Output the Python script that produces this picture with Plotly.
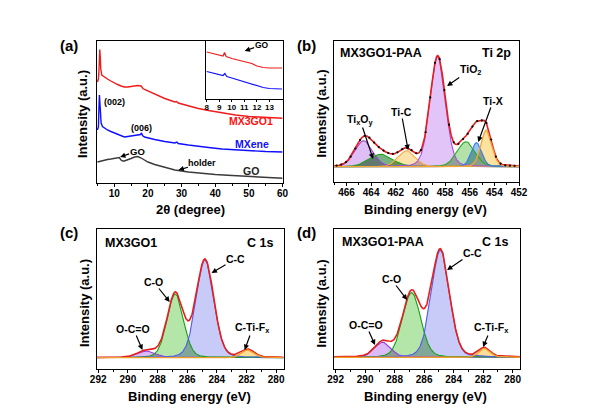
import numpy as np
import plotly.graph_objects as go

# page body has an 8px margin; figure is drawn 8px in from the window corner
OFF = 8
W, H = 610 - 2 * OFF, 414 - 2 * OFF
FONT = "Liberation Sans"

# ---------------- Panel (a): XRD ----------------
xrd_x_mx3go1 = [5.0, 5.3, 5.45, 5.55, 5.7, 5.85, 6.0, 6.3, 7.0, 8, 9, 10, 11, 12, 13, 14, 15, 16, 17, 18,
                18.5, 19, 20, 22, 25, 28, 28.5, 29, 32, 35, 38, 42, 46, 50, 55, 60]
xrd_y_mx3go1 = [101, 104, 112, 125, 133.5, 126, 114, 108, 106, 104, 102, 100, 98.5, 97, 96, 96, 96.5, 97.5, 97.5, 97,
                94.5, 93.5, 92, 89, 84.5, 81, 81.5, 80, 77, 74.5, 72.5, 70, 68, 66.5, 65.5, 64.7]
xrd_x_mxene = [5.0, 5.3, 5.45, 5.6, 5.75, 5.9, 6.1, 6.5, 7, 8, 9, 10, 11, 12, 13, 14, 15, 16, 17,
               17.8, 18.1, 18.4, 19, 20, 22, 25, 28, 28.6, 29, 32, 35, 38, 42, 46, 50, 55, 60]
xrd_y_mxene = [53, 56, 75, 88, 80, 68, 60, 56.5, 55, 53, 51.5, 50, 49, 47.5, 46, 46.5, 47, 47.5, 47.5,
               48.5, 50, 47.5, 46, 45, 43.5, 41.5, 40, 41, 39.5, 38, 36.5, 35.5, 34, 33, 32, 31.5, 31]
xrd_x_go = [5, 6, 7, 8, 9, 10, 11, 11.5, 12, 12.5, 13, 14, 15, 16, 17, 18, 19, 20, 22, 25, 28, 32, 36, 40,
            45, 50, 55, 60]
xrd_y_go = [21, 22, 23, 23.5, 24, 24.5, 25, 25.5, 23, 22, 22, 23, 24.5, 26, 26.5, 25, 23, 21, 18.5, 15.5, 13,
            11, 9.5, 8.5, 7.5, 6.5, 5.5, 4.7]
a_ticks = [10, 20, 30, 40, 50, 60]

# inset
inset_x_mx3go1 = [8.0, 8.5, 9.0, 9.3, 9.42, 9.55, 10, 10.5, 11, 11.3, 11.6, 12, 12.5, 13, 14]
inset_y_mx3go1 = [47, 45.5, 44, 43, 46.5, 42.5, 40.5, 39, 37.5, 37, 35.5, 33, 31.5, 31, 31]
inset_x_mxene = [8.0, 8.5, 9.0, 9.3, 9.45, 9.6, 10, 10.5, 11, 11.5, 12, 12.5, 13, 14]
inset_y_mxene = [27.5, 26, 24.5, 23.5, 25.5, 22.5, 21, 19, 17.5, 15.5, 13.5, 11.5, 10.5, 10]
inset_ticks = [8, 9, 10, 11, 12, 13]

# ---------------- Panel (b): Ti 2p fit ----------------
ti2p_centers = [464.6, 463.2, 461.1, 458.6, 456.3, 455.45, 454.65]
ti2p_heights = [26, 12.5, 16, 110, 25, 24, 36.5]
ti2p_fwhm = [1.7, 2.2, 1.6, 1.45, 1.7, 1.0, 1.05]

# ---------------- Panel (c): C 1s MX3GO1 ----------------
c1s_c_centers = [288.7, 286.8, 284.8, 281.9]
c1s_c_heights = [6.7, 63.7, 97.7, 7.7]
c1s_c_fwhm = [1.4, 1.3, 1.4, 1.0]

# ---------------- Panel (d): C 1s MX3GO1-PAA ----------------
c1s_d_centers = [288.8, 286.85, 284.9, 281.9]
c1s_d_heights = [15, 64.7, 107, 9]
c1s_d_fwhm = [1.3, 1.45, 1.45, 0.9]

# ---------------- styles ----------------
ti2p_fill = [(222, 190, 245), (120, 178, 130), (250, 226, 170), (226, 196, 248), (178, 226, 170),
             (150, 195, 240), (250, 226, 160)]
ti2p_line = [(150, 70, 210), (30, 160, 30), (240, 170, 60), (160, 80, 230), (40, 170, 40),
             (60, 120, 230), (245, 165, 50)]
c1s_fill = [(220, 186, 248), (180, 230, 170), (200, 202, 248), (250, 222, 150)]
c1s_line = [(150, 60, 230), (20, 160, 20), (80, 90, 235), (240, 160, 40)]


def pv(x, c, h, w, eta=0.15):
    d2 = (x - c) ** 2
    g = np.exp(-4 * np.log(2) * d2 / w ** 2)
    lo = 1.0 / (1 + 4 * d2 / w ** 2)
    return h * ((1 - eta) * g + eta * lo)


def rgb(c):
    return "rgb(%d,%d,%d)" % tuple(int(v) for v in c)


def P(px, py):
    return (px - OFF) / W, 1 - (py - OFF) / H


fig = go.Figure()


def add_line(xa, ya, x, y, color, width=1.4):
    fig.add_trace(go.Scatter(x=x, y=y, mode="lines", xaxis=xa, yaxis=ya,
                             line=dict(color=color, width=width), showlegend=False, hoverinfo="skip"))


# panel a
add_line("x", "y", xrd_x_go, xrd_y_go, "#3a3a3a")
add_line("x", "y", xrd_x_mxene, xrd_y_mxene, "#1010ff")
add_line("x", "y", xrd_x_mx3go1, xrd_y_mx3go1, "#ee1c1c")
# inset
add_line("x2", "y2", inset_x_mxene, inset_y_mxene, "#1010ff", 1.2)
add_line("x2", "y2", inset_x_mx3go1, inset_y_mx3go1, "#ee1c1c", 1.2)


def add_fit(xa, ya, xr, centers, heights, fwhms, fills, lines, dots=False):
    x = np.linspace(min(xr), max(xr), 800)
    comps = [pv(x, c, h, w) for c, h, w in zip(centers, heights, fwhms)]
    for comp, fc in zip(comps, fills):
        fig.add_trace(go.Scatter(x=x, y=comp, mode="lines", fill="tozeroy", fillcolor=rgb(fc),
                                 line=dict(width=0, color=rgb(fc)), xaxis=xa, yaxis=ya,
                                 showlegend=False, hoverinfo="skip"))
    n = len(comps)
    for i in range(n):
        for j in range(i + 1, n):
            ov = np.minimum(comps[i], comps[j])
            if ov.max() > 0.6:
                mc = tuple(fills[i][k] * fills[j][k] / 255.0 * 0.92 for k in range(3))
                fig.add_trace(go.Scatter(x=x, y=ov, mode="lines", fill="tozeroy", fillcolor=rgb(mc),
                                         line=dict(width=0, color=rgb(mc)), xaxis=xa, yaxis=ya,
                                         showlegend=False, hoverinfo="skip"))
    for comp, lc in list(zip(comps, lines))[:-1]:
        add_line(xa, ya, x, comp, rgb(lc), 1.1)
    env = np.sum(comps, axis=0)
    add_line(xa, ya, x, env, "rgb(230,30,30)", 1.6)
    add_line(xa, ya, x, comps[-1], rgb(lines[-1]), 1.3)
    if dots:
        xd = np.arange(max(xr) - 0.2, min(xr), -0.38)
        yd = np.sum([pv(xd, c, h, w) for c, h, w in zip(centers, heights, fwhms)], axis=0)
        fig.add_trace(go.Scatter(x=xd, y=yd, mode="markers", xaxis=xa, yaxis=ya,
                                 marker=dict(color="black", size=2.2), showlegend=False, hoverinfo="skip"))


add_fit("x3", "y3", [467, 452], ti2p_centers, ti2p_heights, ti2p_fwhm, ti2p_fill, ti2p_line, dots=True)
add_fit("x4", "y4", [292.1, 279.5], c1s_c_centers, c1s_c_heights, c1s_c_fwhm, c1s_fill, c1s_line)
add_fit("x5", "y5", [292.1, 279.5], c1s_d_centers, c1s_d_heights, c1s_d_fwhm, c1s_fill, c1s_line)


def xaxis(dom_px, rng, dtick, minor=None, size=10, anchor="y", tick0=0, ticklen=3):
    d = dict(domain=[(dom_px[0] - OFF) / W, (dom_px[1] - OFF) / W], range=rng, anchor=anchor,
             showline=True, linecolor="black", linewidth=1.3, mirror=True,
             showgrid=False, zeroline=False, ticks="outside", ticklen=ticklen, tickwidth=1.2,
             tickcolor="black", dtick=dtick, tick0=tick0,
             tickfont=dict(family=FONT, size=size, color="black", weight="bold"))
    if minor:
        d["minor"] = dict(dtick=minor, ticks="outside", ticklen=2, tickwidth=1, tickcolor="black")
    return d


def yaxis(dom_py, rng, anchor):
    return dict(domain=[1 - (dom_py[1] - OFF) / H, 1 - (dom_py[0] - OFF) / H], range=rng, anchor=anchor,
                showline=True, linecolor="black", linewidth=1.3, mirror=True,
                showgrid=False, zeroline=False, ticks="", showticklabels=False)


fig.update_layout(
    width=W, height=H, margin=dict(l=0, r=0, t=0, b=0),
    paper_bgcolor="white", plot_bgcolor="white", showlegend=False,
    xaxis=xaxis((92, 283), [4.8, 60], 10, 5, anchor="y"),
    yaxis=yaxis((41, 183), [0, 142], "x"),
    xaxis2=xaxis((204, 283), [7.92, 14.05], 1, None, size=8, anchor="y2", ticklen=2),
    yaxis2=yaxis((41, 99), [0, 58], "x2"),
    xaxis3=xaxis((336, 526), [467, 452], 2, 1, anchor="y3", tick0=452),
    yaxis3=yaxis((41, 182), [-15.3, 125.7], "x3"),
    xaxis4=xaxis((92, 284), [292.1, 279.5], 2, 1, anchor="y4", tick0=280),
    yaxis4=yaxis((229, 369), [-11.3, 128.7], "x4"),
    xaxis5=xaxis((336, 527), [292.1, 279.5], 2, 1, anchor="y5", tick0=280),
    yaxis5=yaxis((229, 369), [-11.7, 128.3], "x5"),
)
# pull tick labels slightly closer to the axes if supported
try:
    fig.update_xaxes(ticklabelstandoff=-2)
except Exception:
    pass

ann = []


def text(px, py, s, size=10.5, color="black", xanchor="center", angle=0):
    x, y = P(px, py)
    ann.append(dict(x=x, y=y, xref="paper", yref="paper", text="<b>%s</b>" % s, showarrow=False,
                    xanchor=xanchor, yanchor="middle", textangle=angle,
                    font=dict(family=FONT, size=size, color=color)))


def label_arrow(center, tip, s, size=10.5, color="black"):
    x, y = P(*tip)
    ann.append(dict(x=x, y=y, xref="paper", yref="paper", text="<b>%s</b>" % s, showarrow=True,
                    ax=center[0] - tip[0], ay=center[1] - tip[1], axref="pixel", ayref="pixel",
                    arrowhead=2, arrowsize=0.9, arrowwidth=1.2, arrowcolor="black", borderpad=0,
                    font=dict(family=FONT, size=size, color=color)))


# panel letters
text(63, 45, "(a)", 15)
text(308, 45, "(b)", 15)
text(63, 233, "(c)", 15)
text(308, 232, "(d)", 15)

# axis titles
text(188, 209, "2θ (degree)", 13)
text(430, 209, "Binding energy (eV)", 13)
text(187, 396, "Binding energy (eV)", 13)
text(430, 396, "Binding energy (eV)", 13)
for px, py in [(78, 114), (323, 114), (79, 303), (322, 304)]:
    text(px, py, "Intensity (a.u.)", 13, angle=-90)

# panel a labels
text(251, 121, "MX3GO1", 10.5, "#ff1010")
text(252, 144, "MXene", 10.5, "#1010ff")
text(251, 171, "GO", 10.5, "#222222")
text(110, 102, "(002)", 9)
text(138, 128, "(006)", 9)
label_arrow((133, 151), (116, 157), "GO", 9.5)
label_arrow((200, 163), (176, 170), "holder", 9)
label_arrow((261, 45), (244, 51), "GO", 8.5)

# panel b labels
text(340, 53, "MX3GO1-PAA", 12.5, xanchor="left")
text(520, 53, "Ti 2p", 12.5, xanchor="right")
label_arrow((475, 70), (452, 86), "TiO<sub>2</sub>")
label_arrow((499, 101), (484, 142), "Ti-X")
label_arrow((405, 112), (412, 150), "Ti-C")
label_arrow((363, 120), (376, 159), "Ti<sub>x</sub>O<sub>y</sub>")

# panel c labels
text(98, 243, "MX3GO1", 12.5, xanchor="left")
text(275, 243, "C 1s", 12.5, xanchor="right")
label_arrow((234, 259), (210, 273), "C-C")
label_arrow((151, 282), (167, 302), "C-O")
label_arrow((130, 329), (139, 350), "O-C=O")
label_arrow((252, 328), (244, 350), "C-Ti-F<sub>x</sub>")

# panel d labels
text(342, 242, "MX3GO1-PAA", 12.5, xanchor="left")
text(517, 242, "C 1s", 12.5, xanchor="right")
label_arrow((477, 253), (452, 270), "C-C")
label_arrow((395, 279), (411, 300), "C-O")
label_arrow((369, 325), (378, 345), "O-C=O")
label_arrow((497, 328), (489, 347), "C-Ti-F<sub>x</sub>")

fig.update_layout(annotations=ann)
fig.update_xaxes(tickvals=a_ticks, selector=dict(anchor="y"))
fig.update_xaxes(tickvals=inset_ticks, selector=dict(anchor="y2"))
fig.write_html("out.html")
